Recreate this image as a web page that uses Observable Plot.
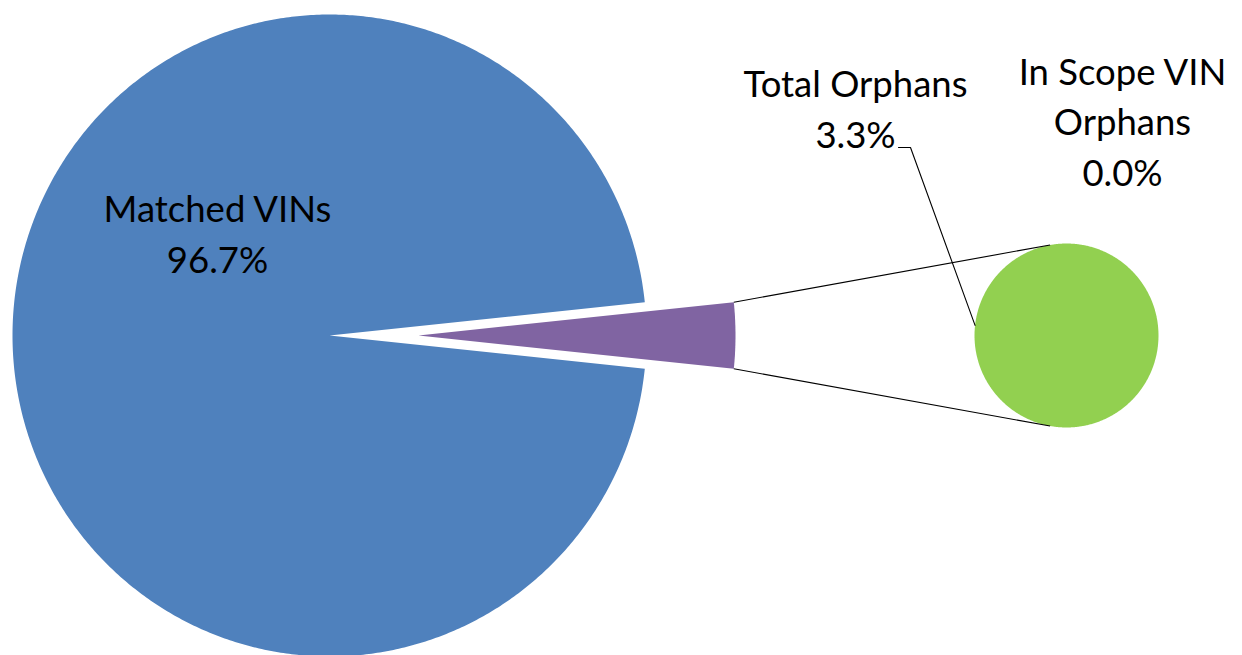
<!DOCTYPE html>
<html><head><meta charset="utf-8">
<script src="https://cdn.jsdelivr.net/npm/d3@7"></script>
<script src="https://cdn.jsdelivr.net/npm/@observablehq/plot@0.6"></script>
<style>html,body{margin:0;padding:0;background:#fff;overflow:hidden}</style>
</head><body><div id="chart"></div>
<script>
// ---- data ----
const categories = ["Matched VINs", "Total Orphans", "In Scope VIN Orphans"];
const shares = [96.7, 3.3, 0.0];
const mainCategories = ["Matched VINs", "Other"];
const secondaryCategories = ["Total Orphans", "In Scope VIN Orphans"];
const labelNames = ["Matched VINs", "Total Orphans", "In Scope VIN\nOrphans"];
const colorDomain = ["Matched VINs", "Other", "Total Orphans", "In Scope VIN Orphans"];
const colorRange = ["#4F81BD", "#8064A2", "#92D050", "#F79646"];

// ---- layout ----
const W = 1242, H = 655;
const mainPie = {cx: 329, cy: 335, rx: 317, ry: 321, explode: 89};
const secPie = {cx: 1066, cy: 335, rx: 92, ry: 92};
const labelPos = {
  "Matched VINs": [217, 272],
  "Total Orphans": [855, 147],
  "In Scope VIN Orphans": [1122, 185]
};
const FONT = "Lato, 'Open Sans', sans-serif";
const FS = 36.5;

const share = name => shares[categories.indexOf(name)];
const otherValue = d3.sum(secondaryCategories, share);
const mainValues = [share("Matched VINs"), otherValue];
const secValues = secondaryCategories.map(share);

const pt = (cx, cy, rx, ry, a) => [cx + rx * Math.sin(a), cy - ry * Math.cos(a)];

function wedgePoints(name, cx, cy, rx, ry, a0, a1) {
  const span = a1 - a0;
  if (span <= 1e-9) return [];
  const full = span >= 2 * Math.PI - 1e-9;
  const n = Math.max(8, Math.ceil(span / (Math.PI / 360)));
  const pts = [];
  if (!full) pts.push({name, x: cx, y: cy});
  for (let i = 0; i <= n; i++) {
    const [x, y] = pt(cx, cy, rx, ry, a0 + span * i / n);
    pts.push({name, x, y});
  }
  return pts;
}

// main pie: "Other" centered at 3 o'clock, exploded
const halfOther = Math.PI * otherValue / d3.sum(mainValues);
const mainArcs = d3.pie().sort(null)
  .startAngle(Math.PI / 2 + halfOther).endAngle(Math.PI / 2 + halfOther + 2 * Math.PI)(mainValues);
let polys = [];
let otherCorners = null;
mainArcs.forEach((a, i) => {
  const name = mainCategories[i];
  let cx = mainPie.cx, cy = mainPie.cy;
  if (name === "Other") {
    const mid = (a.startAngle + a.endAngle) / 2;
    [cx, cy] = pt(cx, cy, mainPie.explode, mainPie.explode, mid);
    otherCorners = [pt(cx, cy, mainPie.rx, mainPie.ry, a.startAngle), pt(cx, cy, mainPie.rx, mainPie.ry, a.endAngle)];
  }
  polys = polys.concat(wedgePoints(name, cx, cy, mainPie.rx, mainPie.ry, a.startAngle, a.endAngle));
});
const secArcs = d3.pie().sort(null)(secValues);
secArcs.forEach((a, i) => {
  polys = polys.concat(wedgePoints(secondaryCategories[i], secPie.cx, secPie.cy, secPie.rx, secPie.ry, a.startAngle, a.endAngle));
});

// tangent connectors from the "Other" slice corners to the secondary pie
function tangent(P, C, r, upper) {
  const dx = P[0] - C[0], dy = P[1] - C[1];
  const d = Math.hypot(dx, dy);
  const th = Math.atan2(dy, dx), al = Math.acos(r / d);
  const t1 = [C[0] + r * Math.cos(th + al), C[1] + r * Math.sin(th + al)];
  const t2 = [C[0] + r * Math.cos(th - al), C[1] + r * Math.sin(th - al)];
  return upper ? (t1[1] < t2[1] ? t1 : t2) : (t1[1] > t2[1] ? t1 : t2);
}
const topC = otherCorners[0][1] < otherCorners[1][1] ? otherCorners[0] : otherCorners[1];
const botC = otherCorners[0][1] < otherCorners[1][1] ? otherCorners[1] : otherCorners[0];
const C = [secPie.cx, secPie.cy];
const tT = tangent(topC, C, secPie.rx, true), tB = tangent(botC, C, secPie.rx, false);
const connectors = [
  {x1: topC[0], y1: topC[1], x2: tT[0], y2: tT[1]},
  {x1: botC[0], y1: botC[1], x2: tB[0], y2: tB[1]}
];

// leader line: "Total Orphans" label -> green slice
const [lx, ly] = labelPos["Total Orphans"];
const leaderEnd = pt(secPie.cx, secPie.cy, secPie.rx, secPie.ry, -1.46);
const leader = [
  {x: lx + 43, y: ly}, {x: lx + 55, y: ly}, {x: leaderEnd[0], y: leaderEnd[1]}
];

const labels = categories.map((c, i) => ({
  text: `${labelNames[i]}\n${shares[i].toFixed(1)}%`,
  x: labelPos[c][0], y: labelPos[c][1]
}));

const chart = Plot.plot({
  width: W, height: H, margin: 0,
  x: {domain: [0, W], axis: null},
  y: {domain: [0, H], reverse: true, axis: null},
  color: {domain: colorDomain, range: colorRange},
  style: {fontFamily: FONT, background: "#fff", overflow: "visible"},
  marks: [
    Plot.line(polys, {x: "x", y: "y", z: "name", fill: "name", stroke: "none", curve: "linear-closed"}),
    Plot.link(connectors, {x1: "x1", y1: "y1", x2: "x2", y2: "y2", stroke: "#000", strokeWidth: 1.1}),
    Plot.line(leader, {x: "x", y: "y", stroke: "#000", strokeWidth: 1.1}),
    Plot.text(labels, {x: "x", y: "y", text: "text", fontSize: FS, fill: "#000",
      textAnchor: "middle", lineAnchor: "bottom", lineHeight: 1.38, fontFamily: FONT})
  ]
});
document.getElementById("chart").appendChild(chart);
</script>
</body></html>
